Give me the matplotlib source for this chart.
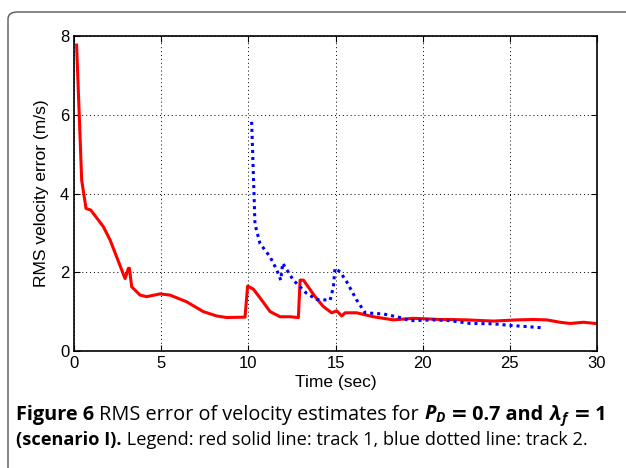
import numpy as np
import matplotlib
matplotlib.use("Agg")
from matplotlib import pyplot as plt
from matplotlib.patches import FancyBboxPatch

# track 1 (red solid)
t1 = [0.15, 0.44, 0.69, 0.96, 1.68, 2.07, 2.93, 3.12, 3.18, 3.31, 3.79, 4.17,
      4.93, 5.51, 6.46, 7.42, 8.18, 8.76, 9.81, 9.96, 10.29, 10.67, 11.25, 11.82,
      12.39, 12.87, 12.97, 13.16, 13.83, 14.30, 14.78, 15.07, 15.36, 15.55, 16.22,
      17.17, 18.32, 19.47, 20.04, 21.0, 21.57, 22.53, 24.06, 25.4, 26.35, 27.12,
      27.88, 28.46, 29.22, 29.9]
v1 = [7.77, 4.34, 3.62, 3.58, 3.16, 2.82, 1.84, 2.10, 2.10, 1.63, 1.42, 1.38,
      1.45, 1.42, 1.25, 1.00, 0.89, 0.85, 0.86, 1.65, 1.57, 1.35, 1.00, 0.87,
      0.87, 0.85, 1.80, 1.80, 1.38, 1.13, 0.97, 1.02, 0.89, 0.97, 0.97,
      0.87, 0.79, 0.83, 0.82, 0.80, 0.80, 0.79, 0.76, 0.79, 0.80, 0.79,
      0.73, 0.70, 0.73, 0.70]

# track 2 (blue dotted)
t2 = [10.19, 10.38, 10.45, 10.67, 11.25, 11.63, 11.86, 11.97, 12.58, 13.35,
      13.92, 14.69, 14.88, 14.97, 15.26, 15.64, 16.22, 16.70, 17.75, 18.7,
      19.28, 20.6, 21.57, 22.72, 24.06, 25.0, 25.97, 26.83]
v2 = [5.82, 3.24, 3.10, 2.73, 2.39, 2.06, 1.80, 2.23, 1.80, 1.46,
      1.31, 1.29, 1.63, 2.10, 2.01, 1.76, 1.29, 0.97, 0.94, 0.85,
      0.77, 0.79, 0.77, 0.70, 0.69, 0.65, 0.62, 0.59]

xticks = [0, 5, 10, 15, 20, 25, 30]
yticks = [0, 2, 4, 6, 8]

W, H = 626, 468
fig = plt.figure(figsize=(W / 100, H / 100), dpi=100)

# rounded frame around the figure panel
frame = FancyBboxPatch((8 / W, -0.2), 1.2, 1.2 - 12 / H,
                       boxstyle="round,pad=0,rounding_size=0.015",
                       transform=fig.transFigure, facecolor="none",
                       edgecolor="#555555", linewidth=1.0)
fig.patches.append(frame)

ax = fig.add_axes([74 / W, 117 / H, 523 / W, 315 / H])
ax.plot(t1, v1, color="red", lw=2.2, solid_joinstyle="round")
ax.plot(t2, v2, color="blue", lw=2.2, linestyle=(0, (1, 1.3)))
ax.set_xlim(0, 30)
ax.set_ylim(0, 8)
ax.set_xticks(xticks)
ax.set_yticks(yticks)
ax.grid(True, color="black", linestyle=(0, (1, 3)), linewidth=0.7)
ax.tick_params(direction="in", top=True, right=True, labelsize=12, length=4)
for s in ax.spines.values():
    s.set_linewidth(1.2)
ax.set_xlabel("Time (sec)", fontsize=12.5, family="Liberation Sans", labelpad=3)
ax.set_ylabel("RMS velocity error (m/s)", fontsize=12.5, family="Liberation Sans", labelpad=8)
for lab in ax.get_xticklabels() + ax.get_yticklabels():
    lab.set_family("Liberation Sans")

# caption, pieces placed one after another
plt.rcParams["mathtext.fontset"] = "custom"
plt.rcParams["mathtext.rm"] = "Open Sans:bold"
plt.rcParams["mathtext.bf"] = "Open Sans:bold"
plt.rcParams["mathtext.it"] = "Open Sans:italic:bold"

renderer = fig.canvas.get_renderer()


def put_line(pieces, x0, y0, size):
    x = x0
    for txt, weight, fam in pieces:
        t = fig.text(x / W, 1 - y0 / H, txt, fontsize=size, fontweight=weight,
                     family=fam, va="baseline", ha="left")
        bb = t.get_window_extent(renderer=renderer)
        x += bb.width


OS, DV = "Open Sans", "DejaVu Sans"
put_line([("Figure 6 ", "bold", OS),
          ("RMS error of velocity estimates for ", "normal", OS),
          (r"$P_D$", "bold", OS),
          ("\u2009", "bold", DV),
          ("=", "bold", DV),
          (" 0.7 and ", "bold", OS),
          (r"$\lambda_f$", "bold", OS),
          ("\u2009", "bold", DV),
          ("=", "bold", DV),
          (" 1", "bold", OS)], 16, 420, 14.3)
put_line([("(scenario I).", "bold", OS),
          (" Legend: red solid line: track 1, blue dotted line: track 2.", "normal", OS)],
         16, 445, 13.1)

fig.savefig("out.png", dpi=100)
